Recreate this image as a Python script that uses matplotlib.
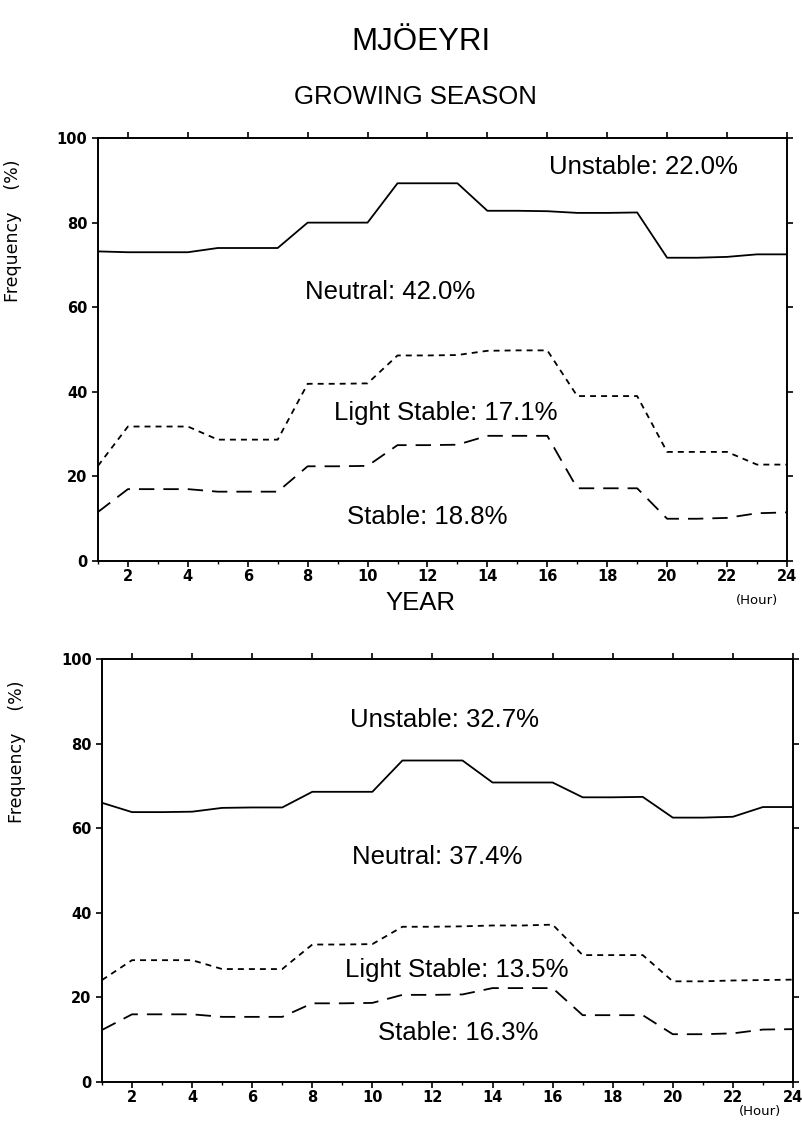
import matplotlib
matplotlib.use("Agg")
import matplotlib.pyplot as plt
from matplotlib.ticker import MultipleLocator

# ---------------------------------------------------------------------------
# Data
# ---------------------------------------------------------------------------

hours = list(range(1, 25))

# Growing season: cumulative boundaries (%)
gs_neutral_top = [73.2, 73, 73, 73, 74, 74, 74, 80, 80, 80, 89.3, 89.3,
                  89.3, 82.8, 82.8, 82.7, 82.3, 82.3, 82.4, 71.7, 71.7, 71.9, 72.5, 72.5]
gs_light_top = [22.5, 31.8, 31.8, 31.8, 28.7, 28.7, 28.7, 41.9, 41.9, 42, 48.6, 48.6,
                48.7, 49.7, 49.8, 49.8, 39, 39, 39, 25.8, 25.8, 25.8, 22.8, 22.8]
gs_stable_top = [11.6, 17, 17, 17, 16.4, 16.4, 16.4, 22.4, 22.4, 22.5, 27.4, 27.4,
                 27.5, 29.6, 29.6, 29.6, 17.2, 17.2, 17.2, 10, 10, 10.2, 11.3, 11.5]

# Whole year
yr_neutral_top = [66, 63.8, 63.8, 63.9, 64.8, 64.9, 64.9, 68.6, 68.6, 68.6, 76, 76,
                  76, 70.8, 70.8, 70.8, 67.3, 67.3, 67.4, 62.5, 62.5, 62.7, 65, 65]
yr_light_top = [24.1, 28.8, 28.8, 28.8, 26.7, 26.7, 26.7, 32.5, 32.5, 32.6, 36.7, 36.7,
                36.8, 37, 37, 37.2, 30, 30, 30, 23.8, 23.8, 24, 24.1, 24.2]
yr_stable_top = [12.3, 16, 16, 16, 15.4, 15.4, 15.4, 18.6, 18.6, 18.7, 20.6, 20.6,
                 20.7, 22.2, 22.2, 22.2, 15.8, 15.8, 15.8, 11.3, 11.3, 11.5, 12.4, 12.5]

gs_labels = ["Unstable: 22.0%", "Neutral: 42.0%", "Light Stable: 17.1%", "Stable: 18.8%"]
yr_labels = ["Unstable: 32.7%", "Neutral: 37.4%", "Light Stable: 13.5%", "Stable: 16.3%"]

TEXT_FONT = "Liberation Sans"
TICK_FONT = "DejaVu Sans"


def draw_panel(ax, neutral, light, stable, labels, label_pos):
    lw = 1.3
    ax.plot(hours, neutral, color="black", lw=lw)
    ax.plot(hours, light, color="black", lw=lw, dashes=(3.3, 2.8))
    ax.plot(hours, stable, color="black", lw=lw, dashes=(8.5, 5))

    for text, (x, y) in zip(labels, label_pos):
        ax.text(x, y, text, ha="center", va="center", fontsize=18.5,
                family=TEXT_FONT)

    ax.set_xlim(1, 24)
    ax.set_ylim(0, 100)
    ax.xaxis.set_major_locator(MultipleLocator(2))
    ax.xaxis.set_minor_locator(MultipleLocator(1))
    ax.yaxis.set_major_locator(MultipleLocator(20))
    ax.tick_params(axis="both", which="major", direction="out", length=4.5,
                   width=1.2, labelsize=10.5, top=True, right=True,
                   labeltop=False, labelright=False)
    ax.tick_params(axis="x", which="minor", direction="out", length=2.5, width=1.0)
    ax.tick_params(axis="x", which="major", pad=1.5)
    ax.tick_params(axis="y", which="major", pad=3)
    for lab in ax.get_xticklabels() + ax.get_yticklabels():
        lab.set_family(TICK_FONT)
        lab.set_fontweight("bold")
    for sp in ax.spines.values():
        sp.set_linewidth(1.4)
    ax.set_ylabel("Frequency    (%)", fontsize=12.5, family=TICK_FONT)
    ax.yaxis.set_label_coords(-0.11, 0.78)


fig = plt.figure(figsize=(8.03, 11.23), dpi=100)

ax1 = fig.add_axes([0.122, 0.5004, 0.858, 0.3767])
draw_panel(ax1, gs_neutral_top, gs_light_top, gs_stable_top, gs_labels,
           [(19.2, 93.1), (10.75, 63.6), (12.6, 35), (12.0, 10.4)])

ax2 = fig.add_axes([0.127, 0.0365, 0.8605, 0.3767])
draw_panel(ax2, yr_neutral_top, yr_light_top, yr_stable_top, yr_labels,
           [(12.4, 85.6), (12.15, 53.2), (12.8, 26.5), (12.85, 11.6)])

fig.text(0.524, 0.9626, "MJÖEYRI", ha="center", va="center", fontsize=22.5,
         family=TEXT_FONT)
fig.text(0.517, 0.9136, "GROWING SEASON", ha="center", va="center", fontsize=18.5,
         family=TEXT_FONT)
fig.text(0.524, 0.463, "YEAR", ha="center", va="center", fontsize=18.5,
         family=TEXT_FONT)
fig.text(0.943, 0.4655, "(Hour)", ha="center", va="center", fontsize=9.5,
         family=TICK_FONT)
fig.text(0.946, 0.0105, "(Hour)", ha="center", va="center", fontsize=9.5,
         family=TICK_FONT)

fig.savefig("out.png", dpi=100)
